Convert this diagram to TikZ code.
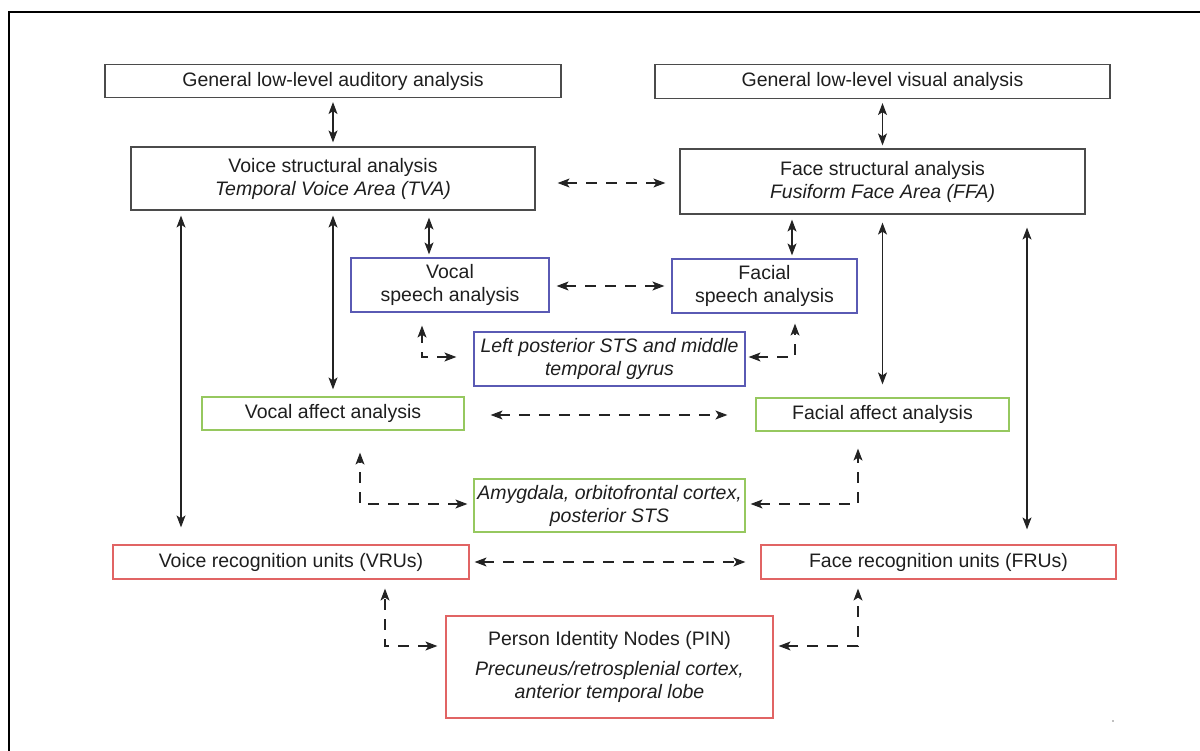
\documentclass[tikz,border=0pt]{standalone}
\usepackage{fontspec}
\setmainfont{Liberation Sans}
\usetikzlibrary{arrows.meta,calc}
\definecolor{bx}{RGB}{75,75,75}
\definecolor{bl}{RGB}{90,90,180}
\definecolor{gr}{RGB}{150,200,95}
\definecolor{rd}{RGB}{225,100,100}
\definecolor{ln}{RGB}{35,35,35}
\definecolor{tx}{RGB}{30,30,30}
\tikzset{
  basebox/.style={line width=1.2pt, inner sep=0pt, align=center, text=tx,
    font=\fontsize{19.5}{23}\selectfont},
  kbox/.style={basebox, draw=bx},
  bbox/.style={basebox, draw=bl},
  gbox/.style={basebox, draw=gr},
  rbox/.style={basebox, draw=rd},
  sol/.style={draw=ln, line width=1.2pt,
    {Stealth[length=12pt,width=9pt,inset=3pt]}-{Stealth[length=12pt,width=9pt,inset=3pt]}},
  dsh/.style={sol, dash pattern=on 11pt off 9pt},
}
\begin{document}
\begin{tikzpicture}[x=1pt,y=-1pt]
\useasboundingbox (0,0) rectangle (1200,751);
\draw[line width=2pt, black] (9,752) -- (9,12) -- (1201,12);
\fill[gray] (1113,721) circle (0.9);

% column / row helpers
\coordinate (c181) at (181,0);
\coordinate (c333) at (333,0);
\coordinate (c429) at (429,0);
\coordinate (c792) at (792,0);
\coordinate (c882) at (882.5,0);
\coordinate (c1027) at (1027,0);
\coordinate (c422) at (422,0);
\coordinate (c795) at (795,0);
\coordinate (c360) at (360,0);
\coordinate (c858) at (858,0);
\coordinate (c385) at (385,0);
\coordinate (r183) at (0,183);
\coordinate (r286) at (0,286);
\coordinate (r415) at (0,415);
\coordinate (r357) at (0,357);
\coordinate (r504) at (0,504);
\coordinate (r562) at (0,562);
\coordinate (r646) at (0,646);

% boxes
\node[kbox, minimum width=456pt, minimum height=33pt] (aud) at (333,81) {General low-level auditory analysis};
\node[kbox, minimum width=455pt, minimum height=34pt] (vis) at (882.5,81.5) {General low-level visual analysis};
\node[kbox, minimum width=404pt, minimum height=63pt] (vstruct) at (333,178.5) {Voice structural analysis\\\textit{Temporal Voice Area (TVA)}};
\node[kbox, minimum width=405pt, minimum height=65pt] (fstruct) at (882.5,181.5) {Face structural analysis\\\textit{Fusiform Face Area (FFA)}};
\node[bbox, minimum width=198pt, minimum height=54pt] (vspeech) at (450,285) {Vocal\\speech analysis};
\node[bbox, minimum width=185pt, minimum height=54pt] (fspeech) at (764.5,286) {Facial\\speech analysis};
\node[bbox, minimum width=271pt, minimum height=54pt] (sts) at (609.5,359) {\textit{Left posterior STS and middle}\\\textit{temporal gyrus}};
\node[gbox, minimum width=262pt, minimum height=33pt] (vaff) at (333,413.5) {Vocal affect analysis};
\node[gbox, minimum width=253pt, minimum height=33pt] (faff) at (882.5,414.5) {Facial affect analysis};
\node[gbox, minimum width=271pt, minimum height=53pt] (amy) at (609.5,505.5) {\textit{Amygdala, orbitofrontal cortex,}\\\textit{posterior STS}};
\node[rbox, minimum width=356pt, minimum height=34pt] (vru) at (291,562) {Voice recognition units (VRUs)};
\node[rbox, minimum width=355pt, minimum height=34pt] (fru) at (938.5,562) {Face recognition units (FRUs)};
\node[rbox, minimum width=327pt, minimum height=102pt] (pin) at (609.5,667) {Person Identity Nodes (PIN)\\[7pt]\textit{Precuneus/retrosplenial cortex,}\\\textit{anterior temporal lobe}};

% solid connectors
\draw[sol, shorten <=4pt, shorten >=4pt] (aud.south) -- (vstruct.north);
\draw[sol, shorten <=4pt, shorten >=3pt] (vis.south -| c882) -- (fstruct.north -| c882);
\draw[sol, shorten <=7pt, shorten >=3pt] (vstruct.south -| c429) -- (vspeech.north -| c429);
\draw[sol, shorten <=5pt, shorten >=3pt] (fstruct.south -| c792) -- (fspeech.north -| c792);
\draw[sol, shorten <=5pt, shorten >=17pt] (vstruct.south -| c181) -- (vru.north -| c181);
\draw[sol, shorten <=5pt, shorten >=7pt] (vstruct.south -| c333) -- (vaff.north -| c333);
\draw[sol, shorten <=8pt, shorten >=13pt] (fstruct.south -| c882) -- (faff.north -| c882);
\draw[sol, shorten <=13pt, shorten >=15pt] (fstruct.south -| c1027) -- (fru.north -| c1027);

% dashed horizontal connectors
\draw[dsh, shorten <=22pt, shorten >=14pt] (vstruct.east |- r183) -- (fstruct.west |- r183);
\draw[dsh, shorten <=7pt, shorten >=7pt] (vspeech.east |- r286) -- (fspeech.west |- r286);
\draw[dsh, shorten <=26pt, shorten >=28pt] (vaff.east |- r415) -- (faff.west |- r415);
\draw[dsh, shorten <=5pt, shorten >=15pt] (vru.east |- r562) -- (fru.west |- r562);

% dashed elbow connectors
\draw[dsh, shorten <=17pt, shorten >=13pt] (sts.west |- r357) -| (vspeech.south -| c422);
\draw[dsh, shorten <=3pt, shorten >=10pt] (sts.east |- r357) -| (fspeech.south -| c795);
\draw[dsh, shorten <=6pt, shorten >=22pt] (amy.west |- r504) -| (vaff.south -| c360);
\draw[dsh, shorten <=5pt, shorten >=17pt] (amy.east |- r504) -| (faff.south -| c858);
\draw[dsh, shorten <=8pt, shorten >=9pt] (pin.west |- r646) -| (vru.south -| c385);
\draw[dsh, shorten <=5pt, shorten >=9pt] (pin.east |- r646) -| (fru.south -| c858);
\end{tikzpicture}
\end{document}
